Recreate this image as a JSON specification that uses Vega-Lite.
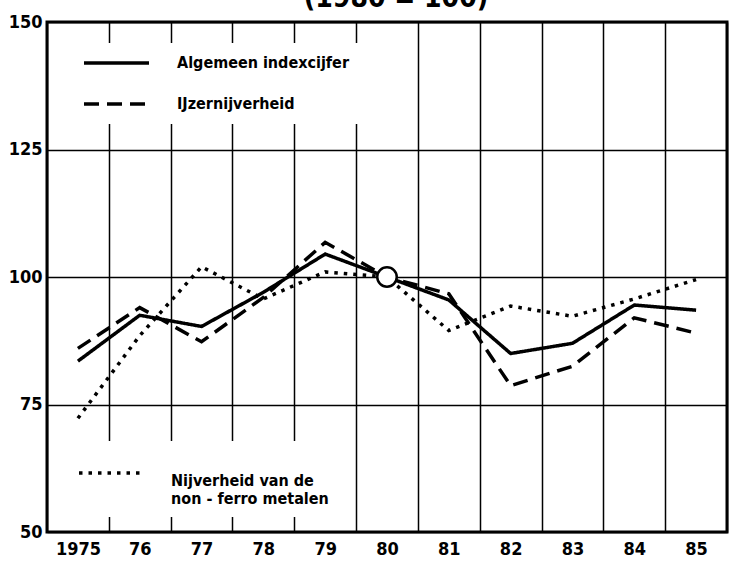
{
  "$schema": "https://vega.github.io/schema/vega-lite/v6.json",
  "width": 680,
  "height": 510,
  "autosize": {"type": "none"},
  "padding": {"left": 47, "top": 22, "right": 3, "bottom": 38},
  "background": "white",
  "config": {
    "view": {"stroke": "black", "strokeWidth": 3},
    "font": "DejaVu Sans Condensed, Liberation Sans, sans-serif",
    "axis": {"labelFont": "DejaVu Sans Condensed, Liberation Sans, sans-serif", "labelFontWeight": "bold", "labelFontSize": 18, "labelColor": "black", "ticks": false, "domain": false, "grid": true, "gridColor": "black", "gridWidth": 1.5, "gridOpacity": 1, "title": null},
    "legend": {"title": null, "orient": "none", "symbolType": "stroke", "symbolStrokeWidth": 3.5, "symbolStrokeColor": "black", "labelFont": "DejaVu Sans Condensed, Liberation Sans, sans-serif", "labelFontSize": 16, "labelFontWeight": "bold", "labelColor": "black", "fillColor": "white", "padding": 10, "labelLimit": 400}
  },
  "datasets": {
    "main": [
      {"year": "1975", "value": 83.5, "series": "Algemeen indexcijfer"},
      {"year": "76", "value": 92.5, "series": "Algemeen indexcijfer"},
      {"year": "77", "value": 90.3, "series": "Algemeen indexcijfer"},
      {"year": "78", "value": 97, "series": "Algemeen indexcijfer"},
      {"year": "79", "value": 104.5, "series": "Algemeen indexcijfer"},
      {"year": "80", "value": 100, "series": "Algemeen indexcijfer"},
      {"year": "81", "value": 95.5, "series": "Algemeen indexcijfer"},
      {"year": "82", "value": 85, "series": "Algemeen indexcijfer"},
      {"year": "83", "value": 87, "series": "Algemeen indexcijfer"},
      {"year": "84", "value": 94.5, "series": "Algemeen indexcijfer"},
      {"year": "85", "value": 93.5, "series": "Algemeen indexcijfer"},
      {"year": "1975", "value": 86, "series": "IJzernijverheid"},
      {"year": "76", "value": 94, "series": "IJzernijverheid"},
      {"year": "77", "value": 87.3, "series": "IJzernijverheid"},
      {"year": "78", "value": 96, "series": "IJzernijverheid"},
      {"year": "79", "value": 106.8, "series": "IJzernijverheid"},
      {"year": "80", "value": 100, "series": "IJzernijverheid"},
      {"year": "81", "value": 96.7, "series": "IJzernijverheid"},
      {"year": "82", "value": 78.7, "series": "IJzernijverheid"},
      {"year": "83", "value": 82.5, "series": "IJzernijverheid"},
      {"year": "84", "value": 92, "series": "IJzernijverheid"},
      {"year": "85", "value": 89, "series": "IJzernijverheid"}
    ],
    "nf": [
      {"year": "1975", "value": 72.3, "series": "Nijverheid van de non - ferro metalen"},
      {"year": "76", "value": 88.5, "series": "Nijverheid van de non - ferro metalen"},
      {"year": "77", "value": 102, "series": "Nijverheid van de non - ferro metalen"},
      {"year": "78", "value": 95.7, "series": "Nijverheid van de non - ferro metalen"},
      {"year": "79", "value": 101, "series": "Nijverheid van de non - ferro metalen"},
      {"year": "80", "value": 100, "series": "Nijverheid van de non - ferro metalen"},
      {"year": "81", "value": 89.5, "series": "Nijverheid van de non - ferro metalen"},
      {"year": "82", "value": 94.3, "series": "Nijverheid van de non - ferro metalen"},
      {"year": "83", "value": 92.3, "series": "Nijverheid van de non - ferro metalen"},
      {"year": "84", "value": 95.7, "series": "Nijverheid van de non - ferro metalen"},
      {"year": "85", "value": 99.5, "series": "Nijverheid van de non - ferro metalen"}
    ],
    "base": [{"year": "80", "value": 100}],
    "heading": [{"year": "80", "value": 150, "text": "(1980 = 100)"}]
  },
  "layer": [
    {
      "data": {"name": "main"},
      "mark": {"type": "line", "color": "black", "strokeWidth": 3.5},
      "encoding": {
        "x": {"field": "year", "type": "ordinal", "bandPosition": 0.5,
              "scale": {"type": "band", "domain": ["1975", "76", "77", "78", "79", "80", "81", "82", "83", "84", "85"], "paddingInner": 0, "paddingOuter": 0},
              "axis": {"labelAngle": 0, "tickBand": "extent", "labelPadding": 8}},
        "y": {"field": "value", "type": "quantitative", "scale": {"domain": [50, 150], "nice": false, "zero": false},
              "axis": {"values": [50, 75, 100, 125, 150], "labelPadding": 5}},
        "strokeDash": {"field": "series", "type": "nominal",
              "scale": {"domain": ["Algemeen indexcijfer", "IJzernijverheid"], "range": [[1, 0], [15, 8]]},
              "legend": {"legendX": 25, "legendY": 21, "symbolSize": 4225, "labelOffset": 26, "rowPadding": 21, "clipHeight": 20,
                         "labelExpr": "datum.label + '\u00a0\u00a0\u00a0\u00a0'"}}
      }
    },
    {
      "data": {"name": "nf"},
      "mark": {"type": "line", "color": "black", "strokeWidth": 3.5},
      "encoding": {
        "x": {"field": "year", "type": "ordinal", "bandPosition": 0.5},
        "y": {"field": "value", "type": "quantitative"},
        "strokeDash": {"field": "series", "type": "nominal",
              "scale": {"domain": ["Nijverheid van de non - ferro metalen"], "range": [[3.5, 6]]},
              "legend": {"legendX": 20, "legendY": 419, "symbolSize": 3969, "labelOffset": 27, "labelBaseline": "top", "clipHeight": 44,
                         "labelExpr": "['Nijverheid van de', 'non - ferro metalen\u00a0\u00a0\u00a0\u00a0\u00a0\u00a0\u00a0']"}}
      }
    },
    {
      "data": {"name": "base"},
      "mark": {"type": "point", "filled": true, "fill": "white", "stroke": "black", "strokeWidth": 2.5, "size": 380, "opacity": 1},
      "encoding": {
        "x": {"field": "year", "type": "ordinal", "bandPosition": 0.5},
        "y": {"field": "value", "type": "quantitative"}
      }
    },
    {
      "data": {"name": "heading"},
      "mark": {"type": "text", "fontSize": 28, "fontWeight": "bold", "baseline": "bottom", "align": "center", "dy": -9, "dx": 9, "color": "black", "font": "DejaVu Sans Condensed, Liberation Sans, sans-serif"},
      "encoding": {
        "x": {"field": "year", "type": "ordinal", "bandPosition": 0.5},
        "y": {"field": "value", "type": "quantitative"},
        "text": {"field": "text"}
      }
    }
  ],
  "resolve": {"scale": {"strokeDash": "independent"}}
}
